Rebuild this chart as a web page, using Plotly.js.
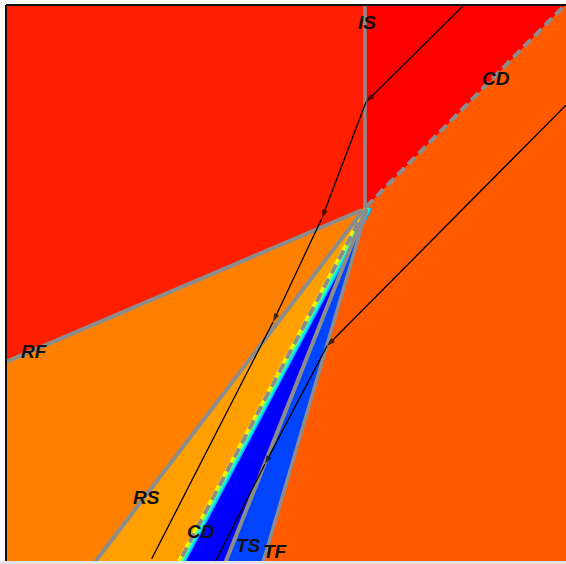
<!DOCTYPE html>
<html>
<head>
<meta charset="utf-8">
<script src="https://cdn.plot.ly/plotly-3.0.1.min.js"></script>
<style>html,body{margin:0;padding:0;background:#fff;}#chart{width:566px;height:564px;}</style>
</head>
<body>
<div id="chart"></div>
<script>
// ---- Wave fronts (diagram units; each from the interaction point to the frame edge) ----
const IS_x   = [365, 365];   const IS_y   = [208, 0];
const CDu_x  = [366, 570];   const CDu_y  = [207, 0];
const RF_x   = [362, 6];     const RF_y   = [210, 362];
const RS_x   = [362, 92];    const RS_y   = [212, 566];
const CDl_x  = [366, 177];   const CDl_y  = [208, 566];
const TS_x   = [366, 224];   const TS_y   = [209, 566];
const TF_x   = [367, 262];   const TF_y   = [209, 566];

// ---- Frame corners ----
const left_x = 6, right_x = 566, top_y = 5, bottom_y = 561;

// ---- Streamlines ----
const S1_x = [469, 366, 322, 273, 148];
const S1_y = [0, 102, 218, 322, 566];
const S2_x = [572, 327, 265, 213];
const S2_y = [99, 346, 464, 566];

// ---- Labels ----
const lab_text = ['IS', 'CD', 'RF', 'RS', 'CD', 'TS', 'TF'];
const lab_x    = [367, 496, 34, 146, 201, 248, 275];
const lab_y    = [22, 78, 351, 497, 531, 545, 551];

// ---- Region colours ----
const C_UL = '#FF1E00', C_UR = '#FF0000', C_OR = '#FF8000', C_LO = '#FFA000',
      C_BL = '#0000FF', C_LB = '#0044FF', C_R = '#FF5A00', GRAY = '#8C8C8C';

function poly(x, y, color) {
  return {type: 'scatter', mode: 'lines', x: x, y: y, fill: 'toself', fillcolor: color,
          line: {width: 0, color: color}, hoverinfo: 'skip'};
}
function line(x, y, color, width, dash) {
  return {type: 'scatter', mode: 'lines', x: x, y: y,
          line: {color: color, width: width, dash: dash || 'solid'}, hoverinfo: 'skip'};
}
function shift(arr, d) { return arr.map(v => v + d); }

const traces = [];
// regions
traces.push(poly([left_x - 5, IS_x[1], IS_x[0], RF_x[0], RF_x[1] - 5], [top_y - 10, top_y - 10, IS_y[0], RF_y[0], RF_y[1]], C_UL));
traces.push(poly([IS_x[1], CDu_x[1] + 10, CDu_x[0], IS_x[0]], [IS_y[1] - 10, CDu_y[1] - 10, CDu_y[0], IS_y[0]], C_UR));
traces.push(poly([RF_x[1] - 5, RF_x[0], RS_x[0], RS_x[1], left_x - 5], [RF_y[1], RF_y[0], RS_y[0], RS_y[1], RS_y[1]], C_OR));
traces.push(poly([RS_x[0], CDl_x[0], CDl_x[1], RS_x[1]], [RS_y[0], CDl_y[0], CDl_y[1], RS_y[1]], C_LO));
traces.push(poly([CDl_x[0], TS_x[0], TS_x[1], CDl_x[1]], [CDl_y[0], TS_y[0], TS_y[1], CDl_y[1]], C_BL));
traces.push(poly([TS_x[0], TF_x[0], TF_x[1], TS_x[1]], [TS_y[0], TF_y[0], TF_y[1], TS_y[1]], C_LB));

// contact transition colours along the lower contact
traces.push(line(shift(CDl_x, 5), CDl_y, '#00A8FF', 3));
traces.push(line(shift(CDl_x, 3.5), CDl_y, '#00F0F0', 3));
traces.push(line(shift(CDl_x, 1.5), CDl_y, '#70FF70', 3));
traces.push(line(shift(CDl_x, -1), CDl_y, '#FFF000', 3));

// fronts
traces.push(line(IS_x, IS_y, GRAY, 3.5));
traces.push(line(RF_x, RF_y, GRAY, 4));
traces.push(line(RS_x, RS_y, GRAY, 4));
traces.push(line(TS_x, TS_y, GRAY, 4));
traces.push(line(TF_x, TF_y, GRAY, 3.5));
traces.push(line(CDu_x, CDu_y, GRAY, 4, '10px,5px'));
traces.push(line(CDl_x, CDl_y, GRAY, 4, '10px,6px'));

// streamlines with arrows
function stream(x, y) {
  const sizes = x.map((v, i) => (i === 0 || i === x.length - 1) ? 0 : 9);
  return {type: 'scatter', mode: 'lines+markers', x: x, y: y,
          line: {color: '#000', width: 1.3},
          marker: {symbol: 'arrow', angleref: 'previous', size: sizes, color: '#000', line: {width: 0}},
          hoverinfo: 'skip'};
}
traces.push(stream(S1_x, S1_y));
traces.push(stream(S2_x, S2_y));

const annotations = lab_text.map((t, i) => ({
  x: lab_x[i], y: lab_y[i], xref: 'x', yref: 'y', text: t, showarrow: false,
  font: {family: 'Liberation Sans, Arial, sans-serif', size: 19, color: '#111', weight: 'bold', style: 'italic'}
}));

const layout = {
  width: 566, height: 564,
  margin: {l: 6, r: 0, t: 5, b: 3, pad: 0},
  paper_bgcolor: '#ffffff', plot_bgcolor: C_R,
  showlegend: false,
  xaxis: {range: [left_x, right_x], visible: false, fixedrange: true},
  yaxis: {range: [bottom_y, top_y], visible: false, fixedrange: true},
  annotations: annotations,
  shapes: [
    {type: 'rect', xref: 'paper', yref: 'paper', x0: -0.05, x1: 1.05, y0: -0.02, y1: 0, fillcolor: '#e4e4e4', line: {width: 0}, layer: 'above'},
    {type: 'line', xref: 'paper', yref: 'paper', x0: 0, x1: 0, y0: 0, y1: 1, line: {color: '#111', width: 2}, layer: 'above'},
    {type: 'line', xref: 'paper', yref: 'paper', x0: 0, x1: 1, y0: 1, y1: 1, line: {color: '#111', width: 2}, layer: 'above'}
  ]
};

Plotly.newPlot('chart', traces, layout, {displayModeBar: false, staticPlot: true});
</script>
</body>
</html>
